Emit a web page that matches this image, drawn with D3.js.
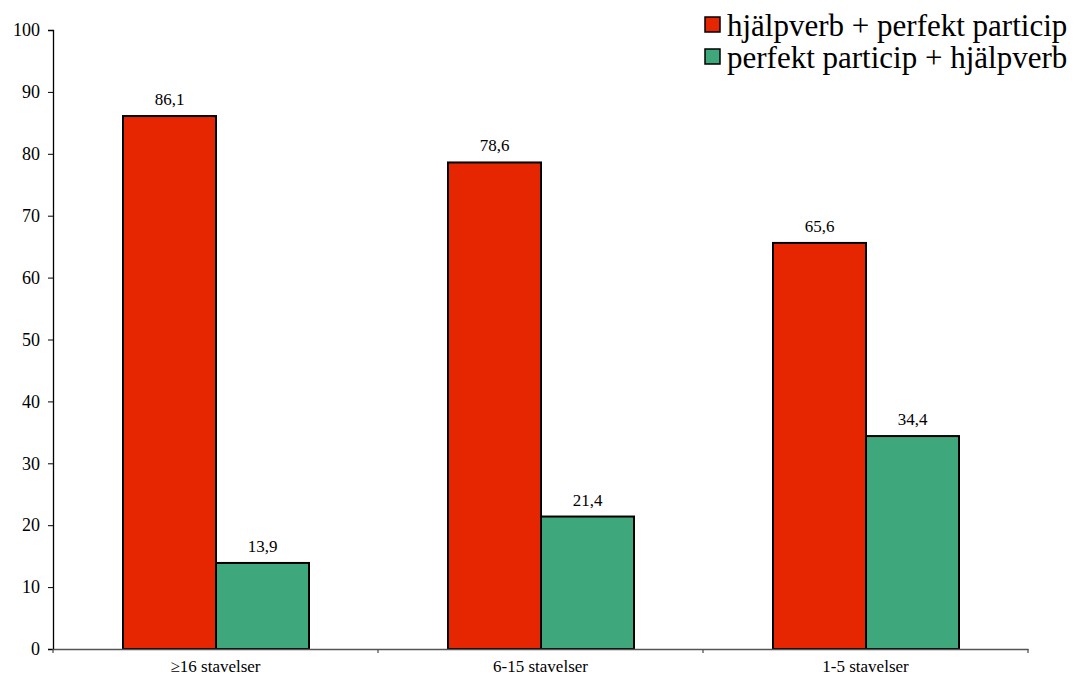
<html><head><meta charset="utf-8"><script src="https://d3js.org/d3.v7.min.js"></script>
<style>
  body { margin: 0; background: #fff; }
  svg text { font-family: "Liberation Serif", "Times New Roman", Tinos, serif !important; }
</style>
</head><body>
<script>

// data
var categories = ["\u226516 stavelser", "6-15 stavelser", "1-5 stavelser"];
var seriesNames = ["hjälpverb + perfekt particip", "perfekt particip + hjälpverb"];
var hjalpFirst = [86.1, 78.6, 65.6];
var particFirst = [13.9, 21.4, 34.4];
var yTicks = [0, 10, 20, 30, 40, 50, 60, 70, 80, 90, 100];
var colors = ["#e52600", "#3ea77b"];

var serif = "Liberation Serif";

var width = 1076, height = 678;
var margin = {top: 30, right: 48, bottom: 29, left: 53};
var w = width - margin.left - margin.right;
var h = height - margin.top - margin.bottom;

var svg = d3.select("body")
  .append("svg")
    .attr("width", width)
    .attr("height", height)
    .attr("font-family", serif);

var g = svg.append("g")
    .attr("transform", "translate(" + margin.left + "," + margin.top + ")");

var x = d3.scaleBand()
    .domain(categories)
    .range([0, w])
    .paddingInner(0)
    .paddingOuter(0);

var inner = d3.scaleBand()
    .domain(seriesNames)
    .range([70, x.bandwidth() - 69]);

var y = d3.scaleLinear()
    .domain([0, 100])
    .range([h, 0]);

var rows = categories.map(function(c, i) {
  return {cat: c, vals: [hjalpFirst[i], particFirst[i]]};
});

// bars
var groups = g.selectAll(".grp")
  .data(rows)
  .enter().append("g")
    .attr("transform", function(d) { return "translate(" + x(d.cat) + ",0)"; });

groups.selectAll("rect")
  .data(function(d) { return d.vals.map(function(v, j) { return {v: v, s: seriesNames[j], j: j}; }); })
  .enter().append("rect")
    .attr("x", function(d) { return inner(d.s); })
    .attr("y", function(d) { return y(d.v); })
    .attr("width", inner.bandwidth())
    .attr("height", function(d) { return h - y(d.v); })
    .attr("fill", function(d) { return colors[d.j]; })
    .attr("stroke", "#000")
    .attr("stroke-width", 2);

// value labels
groups.selectAll(".val")
  .data(function(d) { return d.vals.map(function(v, j) { return {v: v, s: seriesNames[j]}; }); })
  .enter().append("text")
    .attr("x", function(d) { return inner(d.s) + inner.bandwidth() / 2; })
    .attr("y", function(d) { return y(d.v) - 11; })
    .attr("text-anchor", "middle")
    .attr("font-size", 17)
    .text(function(d) { return d3.format(".1f")(d.v).replace(".", ","); });

// y axis
var yAxis = d3.axisLeft(y).tickValues(yTicks).tickSize(5).tickPadding(8);
var ya = g.append("g").call(yAxis).attr("font-family", serif).attr("font-size", 18);
ya.select(".domain").attr("stroke", "#000").attr("stroke-width", 1.3);
ya.selectAll(".tick line").attr("stroke", "#000");
ya.selectAll("text").attr("fill", "#000");

// x axis
var xAxis = d3.axisBottom(x).tickSize(0).tickPadding(11).tickSizeOuter(0);
var xa = g.append("g")
    .attr("transform", "translate(0," + h + ")")
    .call(xAxis)
    .attr("font-family", serif).attr("font-size", 17);
xa.select(".domain").attr("stroke", "#555").attr("stroke-width", 1.3);
xa.selectAll("text").attr("fill", "#000");

// category separator ticks
g.append("g").selectAll("line")
  .data(categories.concat(["end"]))
  .enter().append("line")
    .attr("x1", function(d) { return d === "end" ? w : x(d); })
    .attr("x2", function(d) { return d === "end" ? w : x(d); })
    .attr("y1", h)
    .attr("y2", h + 4)
    .attr("stroke", "#555")
    .attr("stroke-width", 1.3);

// legend
var legend = svg.append("g").attr("transform", "translate(705,17)");
var li = legend.selectAll("g")
  .data(seriesNames)
  .enter().append("g")
    .attr("transform", function(d, i) { return "translate(0," + (i * 32) + ")"; });
li.append("rect")
    .attr("width", 15)
    .attr("height", 15)
    .attr("fill", function(d, i) { return colors[i]; })
    .attr("stroke", "#000")
    .attr("stroke-width", 1.5);
li.append("text")
    .attr("x", 22)
    .attr("y", 19)
    .attr("font-size", 31)
    .text(function(d) { return d; });

</script>
</body></html>
